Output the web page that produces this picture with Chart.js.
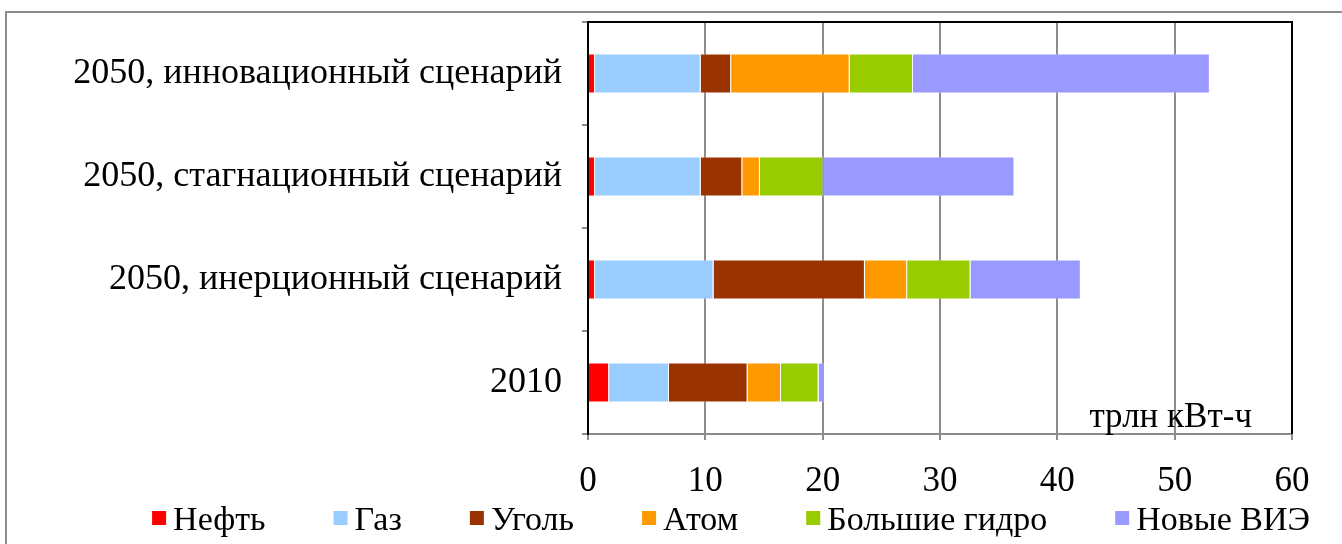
<!DOCTYPE html>
<html>
<head>
<meta charset="utf-8">
<script src="https://cdn.jsdelivr.net/npm/chart.js@4.4.0/dist/chart.umd.min.js"></script>
<style>
  html, body { margin: 0; padding: 0; background: #fff; overflow: hidden; }
  #frame { position: absolute; left: 5px; top: 11px; width: 1400px; height: 600px;
           border-top: 2px solid #8c8c8c; border-left: 2px solid #8c8c8c; }
  #wrap { position: absolute; left: 0; top: 0; width: 1342px; height: 544px; }
</style>
</head>
<body>
<div id="frame"></div>
<div id="wrap"><canvas id="chart"></canvas></div>
<script>
// categories, top to bottom
const categories = [
  "2050, инновационный сценарий",
  "2050, стагнационный сценарий",
  "2050, инерционный сценарий",
  "2010",
];

// trillion kWh per source
const oil = [0.6, 0.6, 0.6, 1.8];
const gas = [9.0, 9.0, 10.1, 5.1];
const coal = [2.6, 3.55, 12.9, 6.7];
const nuclear = [10.1, 1.5, 3.6, 2.85];
const hydro = [5.4, 5.4, 5.4, 3.2];
const newRenewables = [25.3, 16.3, 9.4, 0.55];

const seriesNames = ["Нефть", "Газ", "Уголь", "Атом", "Большие гидро", "Новые ВИЭ"];
const seriesValues = [oil, gas, coal, nuclear, hydro, newRenewables];
const colors = ["#ff0000", "#99ccff", "#993300", "#ff9900", "#99cc00", "#9999ff"];

const xTickLabels = [0, 10, 20, 30, 40, 50, 60];
const unitLabel = "трлн кВт-ч";

const serif = "'Liberation Serif', 'Times New Roman', serif";
const gridGray = "#8c8c8c";

// black border on top and right of the plot, plus the unit caption
const frameAndUnit = {
  id: "frameAndUnit",
  afterDatasetsDraw(chart) {
    const { ctx, chartArea } = chart;
    ctx.save();
    ctx.strokeStyle = "#000";
    ctx.lineWidth = 2;
    ctx.beginPath();
    ctx.moveTo(chartArea.left, chartArea.top);
    ctx.lineTo(chartArea.right, chartArea.top);
    ctx.lineTo(chartArea.right, chartArea.bottom);
    ctx.stroke();

    ctx.fillStyle = "#000";
    ctx.font = "35px " + serif;
    ctx.textAlign = "right";
    ctx.textBaseline = "alphabetic";
    ctx.fillText(unitLabel, chartArea.right - 40, chartArea.bottom - 7);
    ctx.restore();
  },
};

// legend row along the bottom
const bottomLegend = {
  id: "bottomLegend",
  afterDraw(chart) {
    const { ctx, width, height } = chart;
    const box = 14;
    const gapText = 7;
    const gapItem = 68;
    ctx.save();
    ctx.font = "34px " + serif;
    ctx.textBaseline = "middle";
    const items = chart.data.datasets.map((ds) => ({
      text: ds.label,
      color: ds.backgroundColor,
      w: box + gapText + ctx.measureText(ds.label).width,
    }));
    const total = items.reduce((acc, it) => acc + it.w, 0) + gapItem * (items.length - 1);
    let x = width / 2 + 60 - total / 2;
    const y = height - 23;
    for (let it of items) {
      ctx.fillStyle = it.color;
      ctx.fillRect(x, y - box / 2 - 3, box, box);
      ctx.fillStyle = "#000";
      ctx.fillText(it.text, x + box + gapText, y);
      x += it.w + gapItem;
    }
    ctx.restore();
  },
};

const datasets = seriesNames.map((name, i) => ({
  label: name,
  data: seriesValues[i],
  backgroundColor: colors[i],
  borderColor: "rgba(255,255,255,0.35)",
  borderWidth: 1,
  barPercentage: 0.39,
  categoryPercentage: 1,
}));

let myChart = new Chart(document.getElementById("chart"), {
  type: "bar",
  plugins: [frameAndUnit, bottomLegend],
  data: {
    labels: categories,
    datasets: datasets,
  },
  options: {
    indexAxis: "y",
    responsive: true,
    maintainAspectRatio: false,
    animation: false,
    layout: {
      padding: { top: 22, right: 50, bottom: 20, left: 0 },
    },
    plugins: {
      legend: { display: false },
      tooltip: { enabled: false },
    },
    scales: {
      x: {
        stacked: true,
        min: 0,
        max: 60,
        afterBuildTicks: (scale) => {
          scale.ticks = xTickLabels.map((v) => ({ value: v }));
        },
        grid: { color: gridGray, lineWidth: 2, tickLength: 6 },
        border: { color: gridGray, width: 2 },
        ticks: {
          color: "#000",
          padding: 21,
          maxRotation: 0,
          font: { family: serif, size: 35 },
        },
      },
      y: {
        stacked: true,
        afterFit: (scale) => {
          scale.width = 588;
          scale.paddingTop = 0;
          scale.paddingBottom = 0;
        },
        grid: {
          drawOnChartArea: false,
          drawTicks: true,
          tickLength: 6,
          color: gridGray,
          lineWidth: 2,
          offset: true,
        },
        border: { color: "#000", width: 2 },
        ticks: {
          color: "#000",
          padding: 20,
          font: { family: serif, size: 36 },
        },
      },
    },
  },
});
</script>
</body>
</html>
